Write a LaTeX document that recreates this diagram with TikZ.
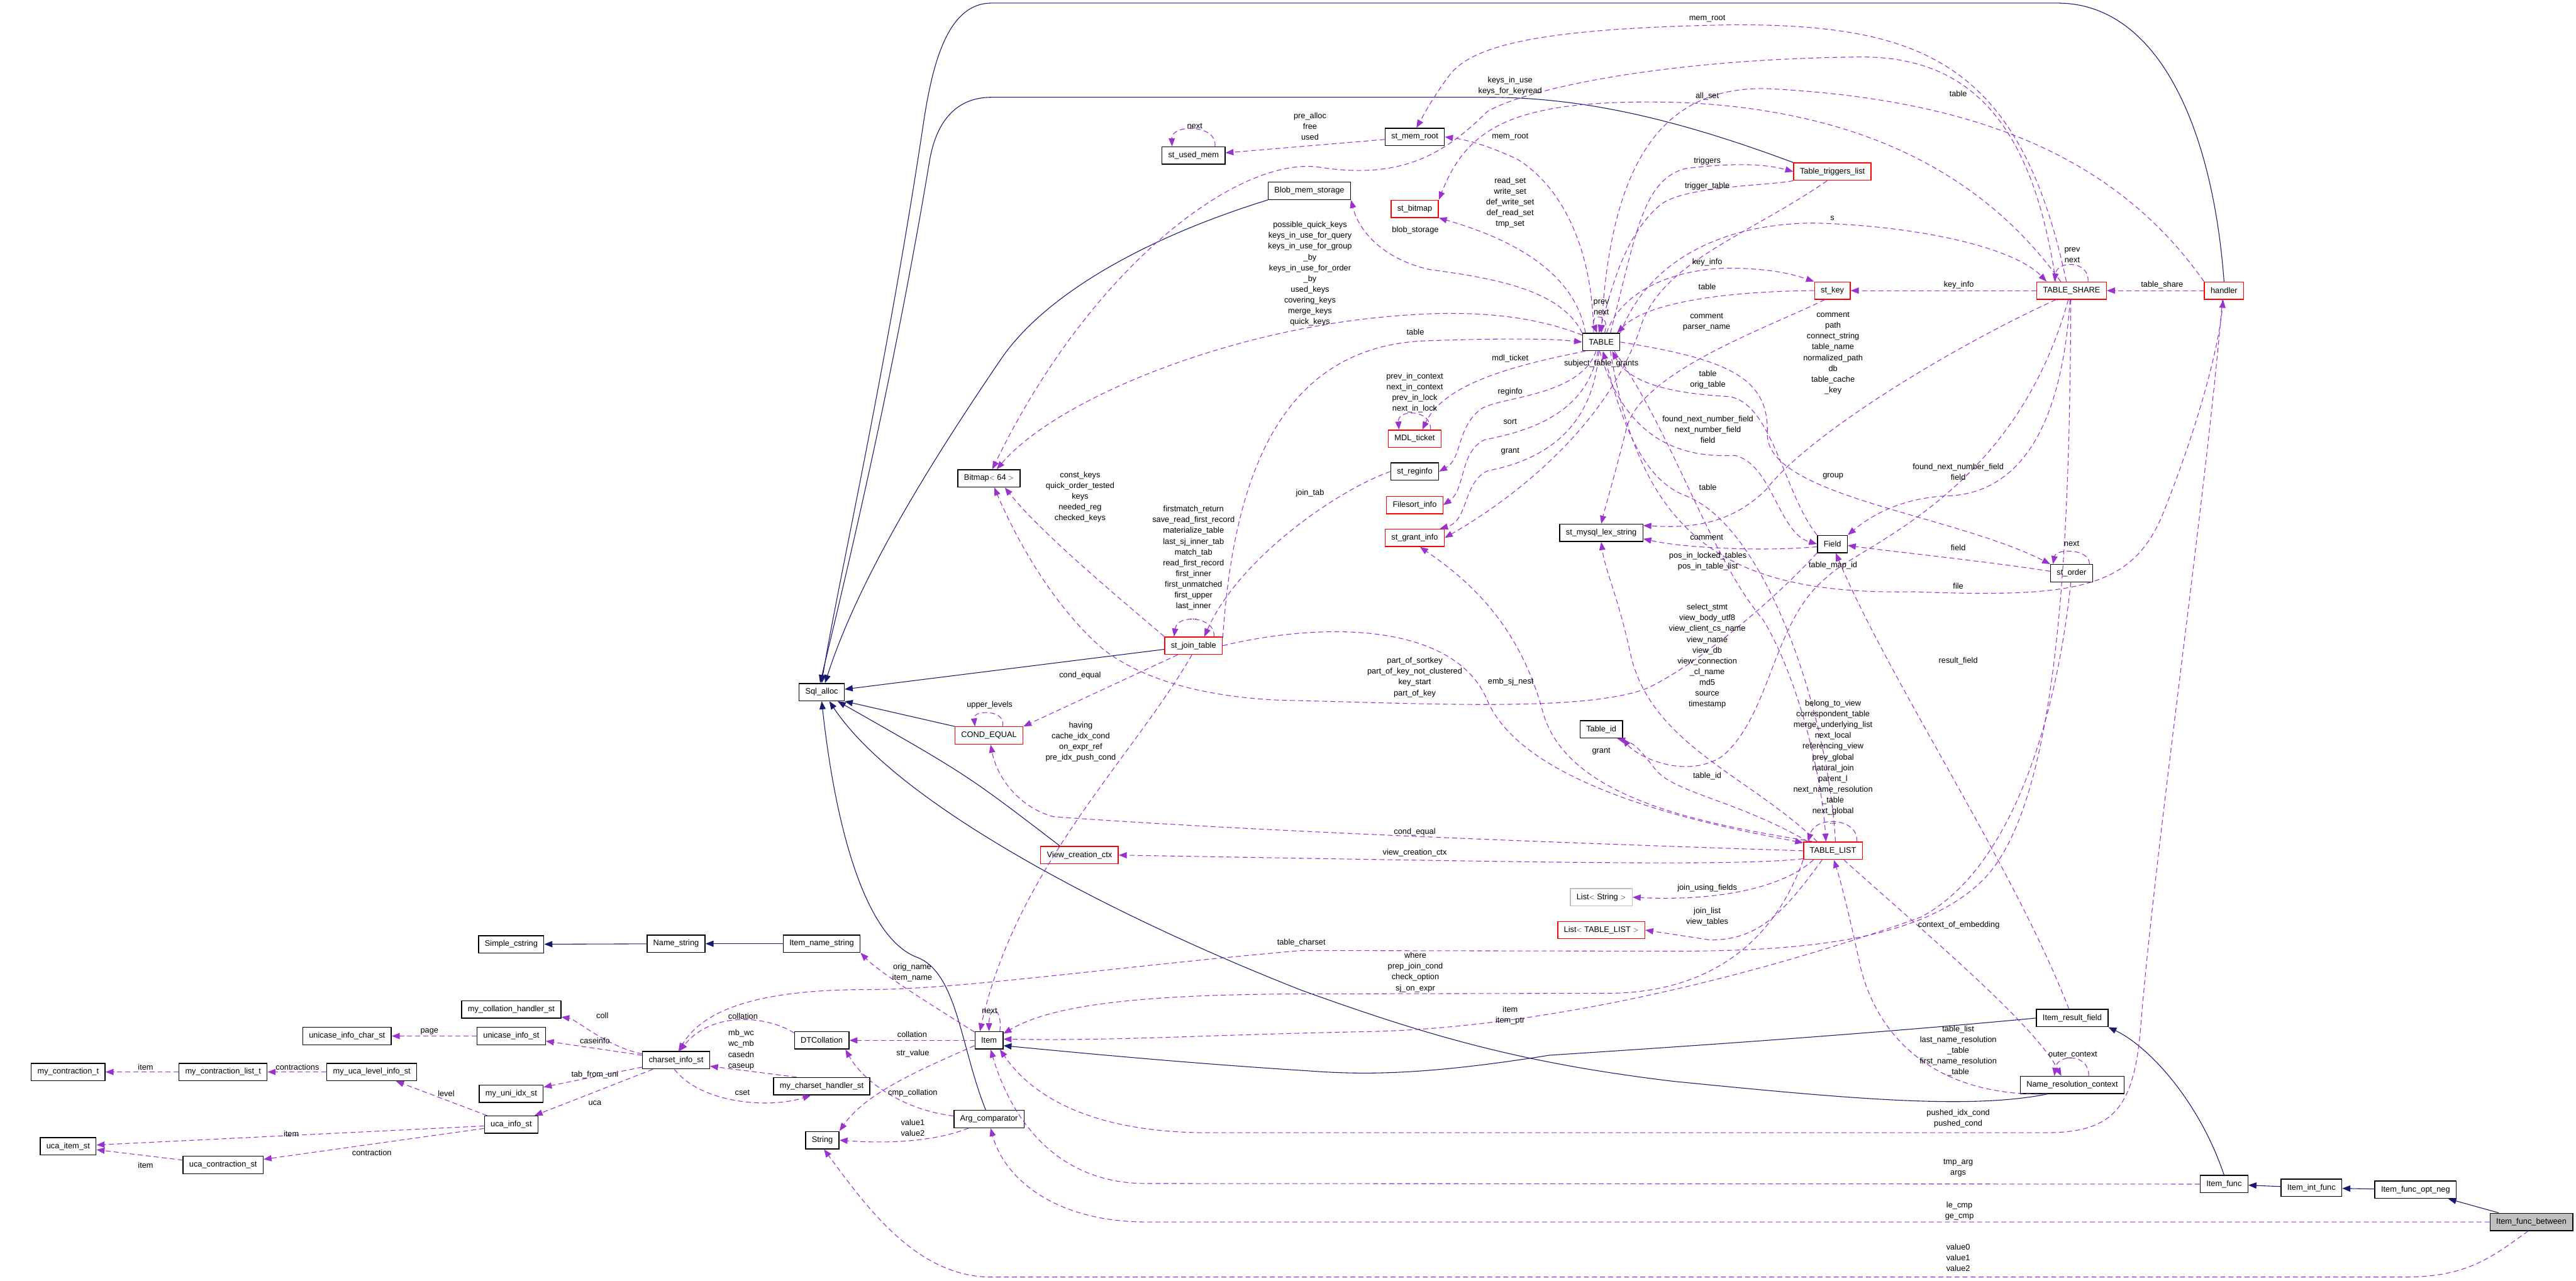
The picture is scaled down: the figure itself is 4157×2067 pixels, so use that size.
\documentclass[tikz,border=0pt]{standalone}
\usepackage{fontspec}
\setmainfont{Liberation Sans}
\usetikzlibrary{arrows.meta}
\definecolor{inhblue}{HTML}{191970}
\definecolor{usepurple}{HTML}{9A32CD}

\begin{document}
\begin{tikzpicture}[x=1pt,y=-1pt,
    cls/.style={draw=black,line width=1.4pt,fill=white,inner xsep=10pt,inner ysep=0pt,
                minimum height=28pt,font=\fontsize{13}{15}\selectfont},
    redcls/.style={cls,draw=red},
    greycls/.style={cls,draw=black!25},
    lbl/.style={font=\fontsize{13}{17.4}\selectfont,align=center,inner sep=0pt},
    inh/.style={-{Triangle[length=13pt,width=10pt]},color=inhblue,line width=1.1pt},
    use/.style={-{Triangle[length=13pt,width=10pt]},color=usepurple,line width=1.1pt,
                dash pattern=on 8pt off 5pt},
  ]
  \useasboundingbox (0,0) rectangle (4157,2067);

  % classes
  \node[cls] (sqlalloc) at (1326,1117) {Sql\_alloc};
  \node[cls] (simplecs) at (825,1524) {Simple\_cstring};
  \node[cls] (namestr) at (1091,1523) {Name\_string};
  \node[cls] (itemname) at (1326,1523) {Item\_name\_string};
  \node[cls] (collh) at (825,1629) {my\_collation\_handler\_st};
  \node[cls] (unicasechar) at (560,1672) {unicase\_info\_char\_st};
  \node[cls] (unicase) at (825,1672) {unicase\_info\_st};
  \node[cls] (contr) at (110,1730) {my\_contraction\_t};
  \node[cls] (contrlist) at (360,1730) {my\_contraction\_list\_t};
  \node[cls] (ucalevel) at (600,1730) {my\_uca\_level\_info\_st};
  \node[cls] (uniidx) at (825,1765) {my\_uni\_idx\_st};
  \node[cls] (ucainfo) at (825,1815) {uca\_info\_st};
  \node[cls] (ucaitem) at (110,1850) {uca\_item\_st};
  \node[cls] (ucacontr) at (360,1880) {uca\_contraction\_st};
  \node[cls] (charset) at (1091,1711) {charset\_info\_st};
  \node[cls] (dtcoll) at (1326,1679) {DTCollation};
  \node[cls] (cshandler) at (1326,1753) {my\_charset\_handler\_st};
  \node[cls] (string) at (1327,1840) {String};
  \node[cls] (item) at (1596,1679) {Item};
  \node[cls] (argcmp) at (1596,1806) {Arg\_comparator};
  \node[redcls] (condeq) at (1596,1187) {COND\_EQUAL};
  \node[redcls] (viewctx) at (1742,1380) {View\_creation\_ctx};
  \node[cls] (bitmap) at (1596,772) {Bitmap$<$ 64 $>$};
  \node[redcls] (joint) at (1926,1042) {st\_join\_table};
  \node[cls] (usedmem) at (1926,251) {st\_used\_mem};
  \node[cls] (blob) at (2113,308) {Blob\_mem\_storage};
  \node[cls] (memroot) at (2283,221) {st\_mem\_root};
  \node[redcls] (bitmapst) at (2283,337) {st\_bitmap};
  \node[redcls] (mdl) at (2283,708) {MDL\_ticket};
  \node[cls] (reginfo) at (2283,761) {st\_reginfo};
  \node[redcls] (filesort) at (2283,815) {Filesort\_info};
  \node[redcls] (grantinfo) at (2283,868) {st\_grant\_info};
  \node[cls] (table) at (2584,552) {TABLE};
  \node[cls] (lexstr) at (2584,860) {st\_mysql\_lex\_string};
  \node[cls] (tableid) at (2584,1177) {Table\_id};
  \node[greycls] (liststr) at (2584,1448) {List$<$ String $>$};
  \node[redcls] (listtl) at (2584,1501) {List$<$ TABLE\_LIST $>$};
  \node[redcls] (triggers) at (2957,277) {Table\_triggers\_list};
  \node[redcls] (stkey) at (2957,469) {st\_key};
  \node[cls] (field) at (2957,878) {Field};
  \node[redcls] (tablelist) at (2958,1373) {TABLE\_LIST};
  \node[redcls] (share) at (3343,469) {TABLE\_SHARE};
  \node[cls] (order) at (3343,925) {st\_order};
  \node[cls] (resfield) at (3344,1643) {Item\_result\_field};
  \node[cls] (namectx) at (3344,1751) {Name\_resolution\_context};
  \node[redcls] (handler) at (3589,469) {handler};
  \node[cls] (func) at (3589,1911) {Item\_func};
  \node[cls] (intfunc) at (3730,1917) {Item\_int\_func};
  \node[cls] (optneg) at (3898,1920) {Item\_func\_opt\_neg};
  \node[cls,fill=black!25] (between) at (4085,1972) {Item\_func\_between};

  % inheritance
  \draw[inh] (namestr) -- (simplecs);
  \draw[inh] (itemname) -- (namestr);
  \draw[inh] (condeq.north west) -- (sqlalloc.south east);
  \draw[inh] (viewctx.155) .. controls (1560,1250) .. (sqlalloc);
  \draw[inh] (joint) -- (sqlalloc);
  \draw[inh] (blob.south west) .. controls (1860,380) and (1690,470) .. (1615,580)
             .. controls (1520,720) and (1390,920) .. (sqlalloc.70);
  \draw[inh] (argcmp.110) .. controls (1550,1690) and (1545,1570) .. (1480,1545)
             .. controls (1400,1515) and (1350,1350) .. (sqlalloc.south);
  \draw[inh] (namectx.200) .. controls (3180,1790) and (3000,1775) .. (2700,1745)
             .. controls (2450,1715) and (2300,1670) .. (2100,1598)
             .. controls (1800,1480) and (1450,1300) .. (sqlalloc.-50);
  \draw[inh] (handler.north) .. controls (3570,200) and (3480,5) .. (3320,5) -- (1600,5)
             .. controls (1530,5) and (1505,100) .. (1490,200)
             .. controls (1430,600) and (1350,950) .. (sqlalloc.north);
  \draw[inh] (triggers.north west) .. controls (2700,190) and (2550,157) .. (2400,157) -- (1600,157)
             .. controls (1540,157) and (1510,200) .. (1500,260)
             .. controls (1440,620) and (1360,950) .. (sqlalloc.100);
  \draw[inh] (resfield.west) .. controls (3000,1670) and (2700,1690) .. (2500,1703)
             .. controls (2300,1735) and (2200,1735) .. (2109,1728)
             .. controls (1900,1715) and (1700,1695) .. (item.-20);
  \draw[inh] (func.north) .. controls (3550,1780) and (3470,1690) .. (resfield.south east);
  \draw[inh] (intfunc) -- (func);
  \draw[inh] (optneg) -- (intfunc);
  \draw[inh] (between) -- (optneg);

  % members around Item
  \draw[use] (item.40) .. controls (1618,1625) and (1596,1620) .. (item.north);
  \draw[use] (item) -- (dtcoll);
  \draw[use] (item.200) .. controls (1500,1720) and (1400,1760) .. (string.north east);
  \draw[use] (item.150) .. controls (1500,1620) and (1420,1570) .. (itemname.south east);
  \draw[use] (argcmp.-156) .. controls (1500,1845) and (1420,1845) .. (string.east);
  \draw[use] (argcmp.175) .. controls (1450,1790) and (1390,1740) .. (dtcoll.-21);
  \draw[use] (dtcoll.165) .. controls (1240,1640) and (1150,1630) .. (charset.70);
  \draw[use] (cshandler.160) -- (charset.-10);
  \draw[use] (charset.-100) .. controls (1130,1780) and (1240,1790) .. (cshandler.-140);
  \draw[use] (share.-95) .. controls (3340,900) and (3320,1300) .. (3200,1420)
             .. controls (3100,1520) and (2900,1535) .. (2700,1535) -- (2100,1534)
             .. controls (1800,1560) and (1550,1597) .. (1400,1597)
             .. controls (1250,1597) and (1140,1620) .. (charset.75);
  \draw[use] (order.-95) .. controls (3320,1150) and (3250,1400) .. (3100,1480)
             .. controls (2850,1570) and (2500,1660) .. (2200,1665)
             .. controls (1950,1670) and (1800,1680) .. (item.5);
  \draw[use] (tablelist.-163) .. controls (2870,1500) and (2780,1600) .. (2600,1603) -- (2100,1604)
             .. controls (1850,1605) and (1700,1620) .. (item.25);
  \draw[use] (handler.-100) .. controls (3560,800) and (3480,1350) .. (3455,1650)
             .. controls (3445,1790) and (3410,1828) .. (3300,1828) -- (1950,1828)
             .. controls (1800,1828) and (1680,1790) .. (item.-40);
  \draw[use] (func.west) -- (1850,1910) .. controls (1700,1910) and (1630,1800) .. (item.-80);
  \draw[use] (between.west) -- (1850,1972) .. controls (1700,1972) and (1620,1900) .. (argcmp.-80);
  \draw[use] (between.-110) .. controls (4020,2030) and (3980,2061) .. (3880,2061) -- (1600,2061)
             .. controls (1480,2061) and (1400,1950) .. (string.-80);

  % charset members
  \draw[use] (charset) .. controls (980,1690) and (930,1645) .. (collh);
  \draw[use] (charset) -- (unicase);
  \draw[use] (unicase) -- (unicasechar);
  \draw[use] (charset) -- (uniidx);
  \draw[use] (charset) -- (ucainfo);
  \draw[use] (ucainfo) -- (ucalevel);
  \draw[use] (ucalevel) -- (contrlist);
  \draw[use] (contrlist) -- (contr);
  \draw[use] (ucainfo) -- (ucaitem);
  \draw[use] (ucainfo) -- (ucacontr);
  \draw[use] (ucacontr) -- (ucaitem);

  % st_join_table and COND_EQUAL
  \draw[use] (condeq.34) .. controls (1625,1145) and (1570,1145) .. (condeq.147);
  \draw[use] (joint.-150) -- (condeq.north east);
  \draw[use] (joint.-100) .. controls (1830,1220) and (1640,1400) .. (item.135);
  \draw[use] (tablelist.180) .. controls (2500,1360) and (2000,1340) .. (1700,1318)
             .. controls (1650,1305) and (1610,1260) .. (condeq.-80);
  \draw[use] (tablelist.195) .. controls (2800,1398) and (2500,1392) .. (viewctx.east);
  \draw[use] (tablelist.-155) .. controls (2880,1430) and (2780,1455) .. (liststr.east);
  \draw[use] (tablelist.-140) .. controls (2880,1470) and (2840,1517) .. (2760,1517) -- (listtl.east);
  \draw[use] (tablelist.160) .. controls (2800,1290) and (2700,1280) .. (2670,1240)
             .. controls (2650,1215) and (2640,1200) .. (tableid.-30);
  \draw[use] (share.-110) .. controls (3250,800) and (3000,880) .. (2950,930)
             .. controls (2860,1000) and (2860,1150) .. (2780,1220)
             .. controls (2720,1260) and (2640,1220) .. (tableid.south east);
  \draw[use] (tablelist.150) .. controls (2820,1250) and (2660,1200) .. (2630,1050)
             .. controls (2610,960) and (2590,920) .. (lexstr.-90);
  \draw[use] (tablelist.155) .. controls (2750,1330) and (2530,1290) .. (2490,1150)
             .. controls (2450,1000) and (2360,930) .. (grantinfo.-60);
  \draw[use] (joint.east) .. controls (2150,1000) and (2350,1010) .. (2400,1130)
             .. controls (2460,1270) and (2750,1330) .. (tablelist.165);
  \draw[use] (field.-150) .. controls (2880,950) and (2760,1060) .. (2660,1110)
             .. controls (2560,1150) and (2300,1135) .. (2066,1130)
             .. controls (1950,1125) and (1850,1100) .. (1783,1050)
             .. controls (1700,980) and (1640,870) .. (bitmap.-60);
  \draw[use] (joint.north west) .. controls (1800,960) and (1680,860) .. (bitmap.-30);
  \draw[use] (joint.24) .. controls (1962,995) and (1900,990) .. (joint.155);
  \draw[use] (reginfo.west) .. controls (2160,790) and (2000,900) .. (joint.40);
  \draw[use] (joint.15) .. controls (1990,780) and (2060,560) .. (2300,550)
             .. controls (2420,546) and (2500,546) .. (table.west);

  % TABLE members
  \draw[use] (table.160) .. controls (2450,500) and (2330,500) .. (2200,515)
             .. controls (1950,545) and (1700,650) .. (bitmap.50);
  \draw[use] (share.150) .. controls (3280,200) and (3180,90) .. (3000,92)
             .. controls (2700,95) and (2470,140) .. (2400,180)
             .. controls (2330,250) and (2260,290) .. (2130,270)
             .. controls (2000,250) and (1760,430) .. (bitmap.70);
  \draw[use] (share.140) .. controls (3200,280) and (3000,175) .. (2700,165)
             .. controls (2450,160) and (2370,200) .. (bitmapst.north east);
  \draw[use] (table.150) .. controls (2540,430) and (2420,380) .. (bitmapst.south east);
  \draw[use] (table.north west) .. controls (2520,470) and (2420,450) .. (2307,435)
             .. controls (2240,420) and (2195,380) .. (blob.south east);
  \draw[use] (table.130) .. controls (2570,400) and (2520,300) .. (2447,256)
             .. controls (2400,235) and (2370,226) .. (memroot.east);
  \draw[use] (share.120) .. controls (3260,100) and (3100,40) .. (2800,40)
             .. controls (2500,45) and (2380,70) .. (2340,120)
             .. controls (2310,160) and (2295,190) .. (memroot.80);
  \draw[use] (memroot) -- (usedmem);
  \draw[use] (usedmem.23) .. controls (1965,200) and (1890,200) .. (usedmem.157);
  \draw[use] (handler.north west) .. controls (3420,260) and (3200,160) .. (2850,143)
             .. controls (2690,140) and (2600,250) .. (table.north);
  \draw[use] (table.70) .. controls (2600,505) and (2565,505) .. (table.115);
  \draw[use] (table.north east) .. controls (2660,420) and (2780,360) .. (2930,360)
             .. controls (3100,365) and (3250,400) .. (share.160);
  \draw[use] (table.60) .. controls (2620,460) and (2720,430) .. (2806,433)
             .. controls (2870,435) and (2900,445) .. (stkey.north west);
  \draw[use] (stkey.west) .. controls (2800,470) and (2660,485) .. (table.30);
  \draw[use] (table.45) .. controls (2640,380) and (2650,290) .. (2720,272)
             .. controls (2800,262) and (2850,265) .. (triggers.west);
  \draw[use] (triggers.south west) .. controls (2850,300) and (2720,300) .. (2680,330)
             .. controls (2620,380) and (2600,470) .. (table.105);
  \draw[use] (triggers.-120) .. controls (2820,380) and (2690,420) .. (2650,520)
             .. controls (2600,680) and (2450,800) .. (grantinfo.east);
  \draw[use] (stkey.-130) .. controls (2850,530) and (2650,600) .. (2625,690)
             .. controls (2605,770) and (2590,820) .. (lexstr.north);
  \draw[use] (share.-150) .. controls (3150,560) and (2920,700) .. (2850,790)
             .. controls (2790,850) and (2720,852) .. (lexstr.10);
  \draw[use] (share.west) -- (stkey.east);
  \draw[use] (handler.west) -- (share.east);
  \draw[use] (share.29) .. controls (3372,420) and (3320,420) .. (share.152);
  \draw[use] (table.east) .. controls (2790,580) and (2855,610) .. (2852,700)
             .. controls (2850,800) and (3150,830) .. (order.north west);
  \draw[use] (table.-45) .. controls (2650,880) and (2800,960) .. (3089,955)
             .. controls (3350,965) and (3440,950) .. (3490,830)
             .. controls (3550,680) and (3580,560) .. (handler.-95);
  \draw[use] (table.-35) .. controls (2700,700) and (2760,900) .. (2845,1000)
             .. controls (2900,1090) and (2940,1250) .. (tablelist.128);
  \draw[use] (tablelist.21) .. controls (3000,1320) and (2930,1315) .. (tablelist.160);
  \draw[use] (tablelist.75) .. controls (2950,1150) and (2850,850) .. (2720,800)
             .. controls (2640,770) and (2610,650) .. (table.-80);
  \draw[use] (field.north west) .. controls (2880,800) and (2860,650) .. (2790,640)
             .. controls (2700,635) and (2630,620) .. (table.-40);
  \draw[use] (table.-100) .. controls (2620,700) and (2700,740) .. (2800,735)
             .. controls (2860,750) and (2870,860) .. (field.west);
  \draw[use] (field.190) .. controls (2850,890) and (2720,885) .. (lexstr.-8);
  \draw[use] (share.-100) .. controls (3330,650) and (3280,790) .. (3150,800)
             .. controls (3060,802) and (3010,840) .. (field.north east);
  \draw[use] (order.175) .. controls (3200,905) and (3050,890) .. (field.-5);
  \draw[use] (order.27) .. controls (3372,885) and (3318,885) .. (order.154);
  \draw[use] (resfield.110) .. controls (3250,1400) and (3050,1100) .. (field.-70);
  \draw[use] (namectx.-160) .. controls (3100,1770) and (3020,1650) .. (3000,1550)
             .. controls (2985,1480) and (2970,1420) .. (tablelist.-85);
  \draw[use] (tablelist.-40) .. controls (3100,1500) and (3280,1650) .. (namectx.140);
  \draw[use] (namectx.29) .. controls (3372,1700) and (3320,1700) .. (namectx.153);
  \draw[use] (table.-150) .. controls (2440,590) and (2330,620) .. (mdl.50);
  \draw[use] (mdl.30) .. controls (2310,660) and (2255,660) .. (mdl.150);
  \draw[use] (table.-120) .. controls (2550,640) and (2420,640) .. (2390,660)
             .. controls (2350,690) and (2360,740) .. (reginfo.east);
  \draw[use] (table.-110) .. controls (2560,680) and (2440,700) .. (2395,710)
             .. controls (2355,730) and (2365,790) .. (filesort.east);
  \draw[use] (table.-105) .. controls (2570,720) and (2450,750) .. (2400,760)
             .. controls (2360,780) and (2370,840) .. (grantinfo.20);

  % member labels
  \node[lbl] (lnextitem) at (1597,1631) {next};
  \node[lbl] (lcollitem) at (1472,1669) {collation};
  \node[lbl] (lstrval) at (1473,1700) {str\_value};
  \node[lbl] (lorig) at (1472,1570) {orig\_name\\item\_name};
  \node[lbl] (lcmpcoll) at (1473,1764) {cmp\_collation};
  \node[lbl] (lval12) at (1473,1820) {value1\\value2};
  \node[lbl] (ldtcoll) at (1199,1640) {collation};
  \node[lbl] (lmbwc) at (1196,1694) {mb\_wc\\wc\_mb\\casedn\\caseup};
  \node[lbl] (lcset) at (1198,1763) {cset};
  \node[lbl] (lcoll) at (972,1639) {coll};
  \node[lbl] (lcaseinfo) at (960,1680) {caseinfo};
  \node[lbl] (lpage) at (693,1665) {page};
  \node[lbl] (ltabuni) at (960,1735) {tab\_from\_uni};
  \node[lbl] (luca) at (960,1780) {uca};
  \node[lbl] (llevel) at (720,1765) {level};
  \node[lbl] (lcontractions) at (480,1722) {contractions};
  \node[lbl] (litemc) at (235,1722) {item};
  \node[lbl] (litemu) at (470,1830) {item};
  \node[lbl] (lcontraction) at (600,1860) {contraction};
  \node[lbl] (litemuc) at (235,1880) {item};
  \node[lbl] (ltcharset) at (2100,1521) {table\_charset};
  \node[lbl] (litemptr) at (2437,1639) {item\\item\_ptr};
  \node[lbl] (lwhere) at (2284,1569) {where\\prep\_join\_cond\\check\_option\\sj\_on\_expr};
  \node[lbl] (lpushed) at (3160,1805) {pushed\_idx\_cond\\pushed\_cond};
  \node[lbl] (largs) at (3160,1885) {tmp\_arg\\args};
  \node[lbl] (lcmp) at (3162,1954) {le\_cmp\\ge\_cmp};
  \node[lbl] (lval012) at (3160,2030) {value0\\value1\\value2};
  \node[lbl] (lupper) at (1597,1138) {upper\_levels};
  \node[lbl] (lhaving) at (1744,1197) {having\\cache\_idx\_cond\\on\_expr\_ref\\pre\_idx\_push\_cond};
  \node[lbl] (lcondj) at (1743,1090) {cond\_equal};
  \node[lbl] (lcondt) at (2283,1343) {cond\_equal};
  \node[lbl] (lvctx) at (2283,1376) {view\_creation\_ctx};
  \node[lbl] (ljfields) at (2755,1433) {join\_using\_fields};
  \node[lbl] (ljlist) at (2755,1479) {join\_list\\view\_tables};
  \node[lbl] (lcontext) at (3161,1493) {context\_of\_embedding};
  \node[lbl] (ltlist) at (3160,1696) {table\_list\\last\_name\_resolution\\\_table\\first\_name\_resolution\\\_table};
  \node[lbl] (louter) at (3345,1703) {outer\_context};
  \node[lbl] (ltableid) at (2755,1252) {table\_id};
  \node[lbl] (lgrant2) at (2584,1212) {grant};
  \node[lbl] (ltlself) at (2958,1230) {belong\_to\_view\\correspondent\_table\\merge\_underlying\_list\\next\_local\\referencing\_view\\prev\_global\\natural\_join\\parent\_l\\next\_name\_resolution\\\_table\\next\_global\\...};
  \node[lbl] (lembsj) at (2438,1100) {emb\_sj\_nest};
  \node[lbl] (lpartkey) at (2283,1093) {part\_of\_sortkey\\part\_of\_key\_not\_clustered\\key\_start\\part\_of\_key};
  \node[lbl] (lselect) at (2755,1059) {select\_stmt\\view\_body\_utf8\\view\_client\_cs\_name\\view\_name\\view\_db\\view\_connection\\\_cl\_name\\md5\\source\\timestamp};
  \node[lbl] (lfile) at (3160,946) {file};
  \node[lbl] (lresfield) at (3160,1067) {result\_field};
  \node[lbl] (ltablemap) at (2958,913) {table\_map\_id};
  \node[lbl] (lpos) at (2756,906) {pos\_in\_locked\_tables\\pos\_in\_table\_list};
  \node[lbl] (lfieldo) at (3160,884) {field};
  \node[lbl] (lnextorder) at (3343,877) {next};
  \node[lbl] (lcommentf) at (2754,867) {comment};
  \node[lbl] (lgroup) at (2958,769) {group};
  \node[lbl] (lfnnf2) at (3160,762) {found\_next\_number\_field\\field};
  \node[lbl] (ltabletl) at (2756,786) {table};
  \node[lbl] (lfnnf) at (2756,693) {found\_next\_number\_field\\next\_number\_field\\field};
  \node[lbl] (ltableorig) at (2756,613) {table\\orig\_table};
  \node[lbl] (lsubject) at (2584,587) {subject\_table\_grants};
  \node[lbl] (lcommentk) at (2754,520) {comment\\parser\_name};
  \node[lbl] (lcommentsh) at (2958,570) {comment\\path\\connect\_string\\table\_name\\normalized\_path\\db\\table\_cache\\\_key};
  \node[lbl] (lmdl) at (2437,579) {mdl\_ticket};
  \node[lbl] (lreginfo) at (2437,632) {reginfo};
  \node[lbl] (lsort) at (2437,680) {sort};
  \node[lbl] (lgrant) at (2437,728) {grant};
  \node[lbl] (lmdlself) at (2283,634) {prev\_in\_context\\next\_in\_context\\prev\_in\_lock\\next\_in\_lock};
  \node[lbl] (ljointab) at (2114,796) {join\_tab};
  \node[lbl] (lconstkeys) at (1743,802) {const\_keys\\quick\_order\_tested\\keys\\needed\_reg\\checked\_keys};
  \node[lbl] (ljtself) at (1926,908) {firstmatch\_return\\save\_read\_first\_record\\materialize\_table\\last\_sj\_inner\_tab\\match\_tab\\read\_first\_record\\first\_inner\\first\_unmatched\\first\_upper\\last\_inner\\...};
  \node[lbl] (ltablej) at (2284,536) {table};
  \node[lbl] (lpqk) at (2114,442) {possible\_quick\_keys\\keys\_in\_use\_for\_query\\keys\_in\_use\_for\_group\\\_by\\keys\_in\_use\_for\_order\\\_by\\used\_keys\\covering\_keys\\merge\_keys\\quick\_keys};
  \node[lbl] (lblob) at (2284,372) {blob\_storage};
  \node[lbl] (lreadset) at (2437,327) {read\_set\\write\_set\\def\_write\_set\\def\_read\_set\\tmp\_set};
  \node[lbl] (lmemroot2) at (2437,221) {mem\_root};
  \node[lbl] (lprealloc) at (2114,204) {pre\_alloc\\free\\used};
  \node[lbl] (lnextused) at (1928,203) {next};
  \node[lbl] (lkeysinuse) at (2437,139) {keys\_in\_use\\keys\_for\_keyread};
  \node[lbl] (lmemroot) at (2755,30) {mem\_root};
  \node[lbl] (lallset) at (2755,155) {all\_set};
  \node[lbl] (ltableh) at (3160,151) {table};
  \node[lbl] (ltriggers) at (2755,260) {triggers};
  \node[lbl] (ltrigtable) at (2755,301) {trigger\_table};
  \node[lbl] (ls) at (2957,352) {s};
  \node[lbl] (lkeyinfo) at (2755,423) {key\_info};
  \node[lbl] (ltablek) at (2755,463) {table};
  \node[lbl] (lprevnext) at (2584,496) {prev\\next};
  \node[lbl] (lprevnexts) at (3344,412) {prev\\next};
  \node[lbl] (lkeyinfo2) at (3161,460) {key\_info};
  \node[lbl] (ltshare) at (3489,460) {table\_share};
\end{tikzpicture}
\end{document}
